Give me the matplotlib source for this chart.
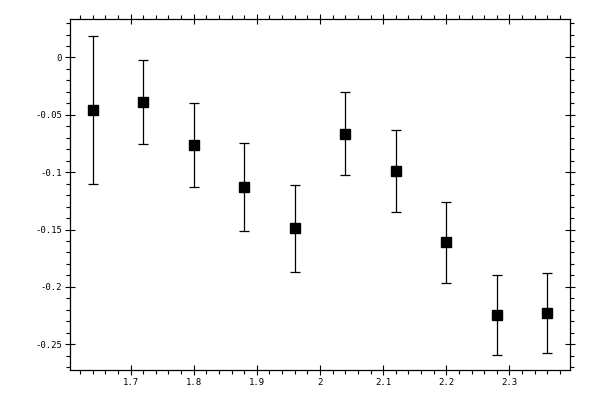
import numpy as np
import matplotlib
matplotlib.use("Agg")
import matplotlib.pyplot as plt
from matplotlib.ticker import MultipleLocator, FuncFormatter

# data
x = [1.64, 1.72, 1.80, 1.88, 1.96, 2.04, 2.12, 2.20, 2.28, 2.36]
y = [-0.0455, -0.0388, -0.0763, -0.1130, -0.1490, -0.0665, -0.0990, -0.1612, -0.2243, -0.2227]
yerr = [0.0645, 0.0364, 0.0367, 0.0382, 0.0377, 0.0364, 0.0360, 0.0351, 0.0350, 0.0350]

fig = plt.figure(figsize=(6, 4), dpi=100)
ax = fig.add_axes([70 / 600, 30 / 400, 500 / 600, 350.7 / 400])

ax.errorbar(x, y, yerr=yerr, fmt="s", color="black", markersize=7.2,
            elinewidth=0.9, capsize=3.6, capthick=0.9)

ax.set_xlim(1.604, 2.396)
ax.set_ylim(-0.2725, 0.0333)

ax.xaxis.set_major_locator(MultipleLocator(0.1))
ax.xaxis.set_minor_locator(MultipleLocator(0.02))
ax.yaxis.set_major_locator(MultipleLocator(0.05))
ax.yaxis.set_minor_locator(MultipleLocator(0.01))


def fmt(v, pos):
    return f"{round(v, 6) + 0.0:g}"


ax.xaxis.set_major_formatter(FuncFormatter(fmt))
ax.yaxis.set_major_formatter(FuncFormatter(fmt))

ax.tick_params(which="both", top=True, right=True, width=0.8, colors="black",
               labelsize=6.5, labelfontfamily="DejaVu Sans Mono")
ax.tick_params(which="major", direction="inout", length=7.2, pad=2)
ax.tick_params(which="minor", direction="out", length=2.9)

for s in ax.spines.values():
    s.set_linewidth(0.9)

fig.savefig("out.png", dpi=100)
